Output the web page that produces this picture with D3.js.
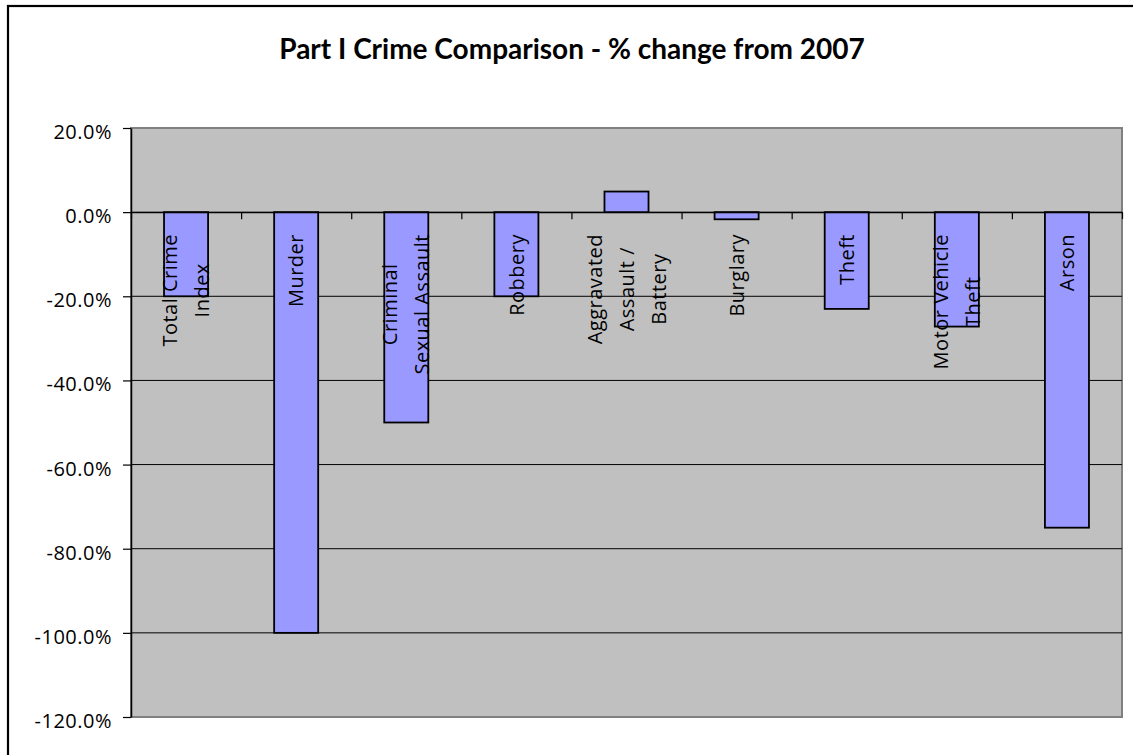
<!DOCTYPE html>
<html>
<head>
<meta charset="utf-8">
<script src="https://cdn.jsdelivr.net/npm/d3@7"></script>
<style>
  html, body { margin: 0; padding: 0; background: #fff; }
  svg { display: block; }
</style>
</head>
<body>
<svg id="chart" width="1133" height="755"></svg>
<script>
// ---- data ----
const categories = ["Total Crime Index", "Murder", "Criminal Sexual Assault", "Robbery",
  "Aggravated Assault / Battery", "Burglary", "Theft", "Motor Vehicle Theft", "Arson"];
const labelLines = [["Total Crime", "Index"], ["Murder"], ["Criminal", "Sexual Assault"], ["Robbery"],
  ["Aggravated", "Assault /", "Battery"], ["Burglary"], ["Theft"], ["Motor Vehicle", "Theft"], ["Arson"]];
const pctChange = [-20.0, -100.0, -50.0, -20.0, 4.9, -1.7, -23.0, -27.2, -75.0];
const yTicks = [20, 0, -20, -40, -60, -80, -100, -120];
const titleText = "Part I Crime Comparison - % change from 2007";

// ---- layout ----
const svg = d3.select("#chart");
const plot = { left: 131, right: 1122, top: 128, bottom: 717 };
const labelFont = "'Open Sans', 'Noto Sans', sans-serif";
const labelSize = "20px";
const labelSpacing = "0.5px";

// outer chart frame (right/bottom sides fall outside the picture)
svg.append("rect").attr("x", 8).attr("y", 6).attr("width", 1150).attr("height", 780)
  .attr("fill", "#fff").attr("stroke", "#000").attr("stroke-width", 2.2);

const x = d3.scaleBand().domain(categories).range([plot.left, plot.right])
  .paddingInner(0.6).paddingOuter(0.3);
const xEdge = d3.scaleLinear().domain([0, categories.length]).range([plot.left, plot.right]);
const y = d3.scaleLinear().domain([-120, 20]).range([plot.bottom, plot.top]);

// plot background
svg.append("rect").attr("x", plot.left).attr("y", plot.top)
  .attr("width", plot.right - plot.left).attr("height", plot.bottom - plot.top)
  .attr("fill", "#c0c0c0").attr("stroke", "#808080").attr("stroke-width", 2);

// gridlines
svg.append("g").selectAll("line").data(yTicks.filter(d => d < 20 && d > -120)).join("line")
  .attr("x1", plot.left).attr("x2", plot.right)
  .attr("y1", d => y(d)).attr("y2", d => y(d))
  .attr("stroke", "#000").attr("stroke-width", 1);

// bars
svg.append("g").selectAll("rect").data(pctChange).join("rect")
  .attr("x", (d, i) => x(categories[i]))
  .attr("width", x.bandwidth())
  .attr("y", d => y(Math.max(0, d)))
  .attr("height", d => Math.abs(y(d) - y(0)))
  .attr("fill", "#9999ff").attr("stroke", "#000").attr("stroke-width", 1.8);

// y axis
const yAxis = svg.append("g").attr("transform", `translate(${plot.left},0)`)
  .call(d3.axisLeft(y).tickValues(yTicks).tickFormat(d => d.toFixed(1) + "%")
    .tickSize(8).tickPadding(11).tickSizeOuter(0));
yAxis.select(".domain").attr("stroke", "#000").attr("stroke-width", 1.5);
yAxis.selectAll(".tick line").attr("stroke", "#000").attr("stroke-width", 1.2);
yAxis.selectAll(".tick text").attr("dy", 10.5).attr("fill", "#000")
  .style("font-family", labelFont).style("font-size", labelSize).style("letter-spacing", labelSpacing);

// x axis along zero line, with tick marks at category edges
const xAxis = svg.append("g").attr("transform", `translate(0,${y(0)})`)
  .call(d3.axisBottom(xEdge).tickValues(d3.range(categories.length + 1))
    .tickSize(7).tickSizeOuter(0).tickFormat(""));
xAxis.select(".domain").attr("stroke", "#000").attr("stroke-width", 1.2);
xAxis.selectAll(".tick line").attr("stroke", "#000").attr("stroke-width", 1.2);

// category labels: rotated, wrapped lines, centered
const labelTop = 234;
const lineGap = 32;
categories.forEach((c, i) => {
  const cx = x(c) + x.bandwidth() / 2;
  const lines = labelLines[i];
  const g = svg.append("g").attr("transform", `translate(${cx},${labelTop}) rotate(-90)`);
  const texts = lines.map((ln, j) => g.append("text")
    .attr("y", (j - (lines.length - 1) / 2) * lineGap)
    .attr("dy", "0.36em")
    .attr("text-anchor", "middle")
    .style("font-family", labelFont).style("font-size", labelSize).style("letter-spacing", labelSpacing)
    .attr("fill", "#000")
    .text(ln));
  const maxLen = d3.max(texts, t => t.node().getComputedTextLength());
  texts.forEach(t => t.attr("x", -maxLen / 2));
});

// title
svg.append("text").attr("x", 572).attr("y", 59).attr("text-anchor", "middle")
  .style("font-family", "Lato, 'Open Sans', sans-serif").style("font-weight", "bold")
  .style("font-size", "28px").attr("fill", "#000").text(titleText);
</script>
</body>
</html>
